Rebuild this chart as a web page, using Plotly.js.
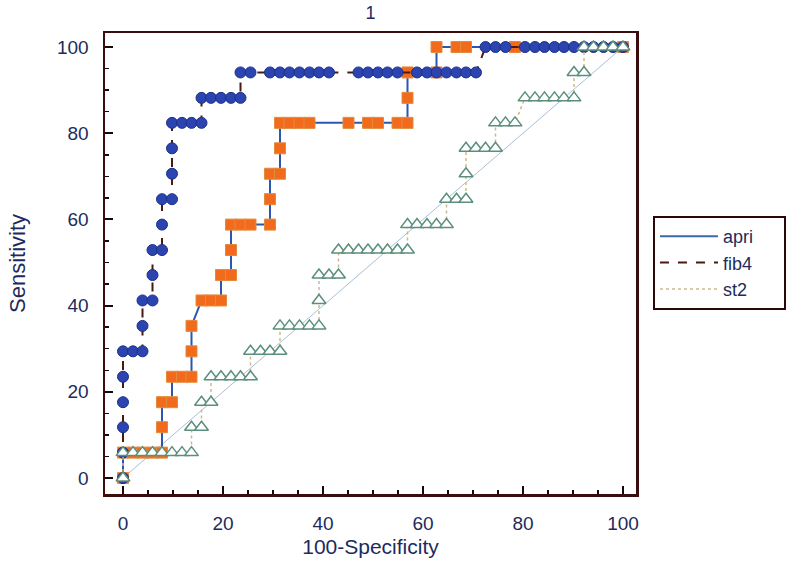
<!DOCTYPE html>
<html>
<head>
<meta charset="utf-8">
<script src="https://cdn.plot.ly/plotly-3.0.1.min.js"></script>
<style>
  html, body { margin: 0; padding: 0; background: #ffffff; }
  #chart { width: 800px; height: 566px; }
</style>
</head>
<body>
<div id="chart"></div>
<script>
// ROC points (x = 100-Specificity, y = Sensitivity)
const apriX = [0, 0, 2.0, 3.9, 5.9, 7.8, 7.8, 7.8, 9.8, 9.8, 11.8, 13.7, 13.7, 13.7, 15.7, 17.6, 19.6, 19.6, 21.6, 21.6, 21.6, 23.5, 25.5, 29.4, 29.4, 29.4, 31.4, 31.4, 31.4, 33.3, 35.3, 37.3, 45.1, 49.0, 51.0, 54.9, 56.9, 56.9, 56.9, 62.7, 62.7, 66.7, 68.6, 78.4, 100];
const apriY = [0, 5.9, 5.9, 5.9, 5.9, 5.9, 11.8, 17.6, 17.6, 23.5, 23.5, 23.5, 29.4, 35.3, 41.2, 41.2, 41.2, 47.1, 47.1, 52.9, 58.8, 58.8, 58.8, 58.8, 64.7, 70.6, 70.6, 76.5, 82.4, 82.4, 82.4, 82.4, 82.4, 82.4, 82.4, 82.4, 82.4, 88.2, 94.1, 94.1, 100, 100, 100, 100, 100];

const fib4X = [0, 0, 0, 0, 0, 0, 2.0, 3.9, 3.9, 3.9, 5.9, 5.9, 5.9, 7.8, 7.8, 7.8, 9.8, 9.8, 9.8, 9.8, 11.8, 13.7, 15.7, 15.7, 17.6, 19.6, 21.6, 23.5, 23.5, 25.5, 29.4, 31.4, 33.3, 35.3, 37.3, 39.2, 41.2, 47.1, 49.0, 51.0, 52.9, 54.9, 58.8, 60.8, 62.7, 64.7, 66.7, 68.6, 70.6, 72.5, 74.5, 76.5, 80.4, 82.4, 84.3, 86.3, 88.2, 90.2, 92.2, 94.1, 96.1, 98.0, 100];
const fib4Y = [0, 5.9, 11.8, 17.6, 23.5, 29.4, 29.4, 29.4, 35.3, 41.2, 41.2, 47.1, 52.9, 52.9, 58.8, 64.7, 64.7, 70.6, 76.5, 82.4, 82.4, 82.4, 82.4, 88.2, 88.2, 88.2, 88.2, 88.2, 94.1, 94.1, 94.1, 94.1, 94.1, 94.1, 94.1, 94.1, 94.1, 94.1, 94.1, 94.1, 94.1, 94.1, 94.1, 94.1, 94.1, 94.1, 94.1, 94.1, 94.1, 100, 100, 100, 100, 100, 100, 100, 100, 100, 100, 100, 100, 100, 100];

const st2X = [0, 0, 2.0, 3.9, 5.9, 7.8, 9.8, 11.8, 13.7, 13.7, 15.7, 15.7, 17.6, 17.6, 19.6, 21.6, 23.5, 25.5, 25.5, 27.5, 29.4, 31.4, 31.4, 33.3, 35.3, 37.3, 39.2, 39.2, 39.2, 41.2, 43.1, 43.1, 45.1, 47.1, 49.0, 51.0, 52.9, 54.9, 56.9, 56.9, 58.8, 60.8, 62.7, 64.7, 64.7, 66.7, 68.6, 68.6, 68.6, 70.6, 72.5, 74.5, 74.5, 76.5, 78.4, 80.4, 82.4, 84.3, 86.3, 88.2, 90.2, 90.2, 92.2, 92.2, 94.1, 96.1, 98.0, 100];
const st2Y = [0, 5.9, 5.9, 5.9, 5.9, 5.9, 5.9, 5.9, 5.9, 11.8, 11.8, 17.6, 17.6, 23.5, 23.5, 23.5, 23.5, 23.5, 29.4, 29.4, 29.4, 29.4, 35.3, 35.3, 35.3, 35.3, 35.3, 41.2, 47.1, 47.1, 47.1, 52.9, 52.9, 52.9, 52.9, 52.9, 52.9, 52.9, 52.9, 58.8, 58.8, 58.8, 58.8, 58.8, 64.7, 64.7, 64.7, 70.6, 76.5, 76.5, 76.5, 76.5, 82.4, 82.4, 82.4, 88.2, 88.2, 88.2, 88.2, 88.2, 88.2, 94.1, 94.1, 100, 100, 100, 100, 100];

const refX = [0, 100];
const refY = [0, 100];

const seriesNames = ["apri", "fib4", "st2"];
const chartTitle = "1";
const xTitle = "100-Specificity";
const yTitle = "Sensitivity";
const tickVals = [0, 20, 40, 60, 80, 100];

const FONT = "Liberation Sans, Arial, sans-serif";
const NAVY = "#1d2b5c";
const FRAME = "#3b0d0d";
const pad = "\u00a0".repeat(5);

const traces = [
  { x: refX, y: refY, mode: "lines", showlegend: false, hoverinfo: "skip",
    line: { color: "#a9bfd6", width: 1 } },
  { x: apriX, y: apriY, mode: "lines+markers", showlegend: false,
    line: { color: "#2d56b3", width: 2 },
    marker: { symbol: "square", size: 11, color: "#f26b1d", line: { color: "#e38a3c", width: 1 } } },
  { x: fib4X, y: fib4Y, mode: "lines+markers", showlegend: false,
    line: { color: "#4a1a10", width: 2, dash: "dash" },
    marker: { symbol: "circle", size: 11, color: "#2b44b0", line: { color: "#1c2f8a", width: 1 } } },
  { x: st2X, y: st2Y, mode: "lines+markers", showlegend: false,
    line: { color: "#cdb98e", width: 1.5, dash: "dot" },
    marker: { symbol: "triangle-up", size: 12, color: "#ffffff", line: { color: "#5b8f7c", width: 1.5 } } },
  // legend samples (lines only, as in the reference legend)
  { x: [null], y: [null], mode: "lines", name: seriesNames[0] + pad, line: { color: "#3a6aa8", width: 2 } },
  { x: [null], y: [null], mode: "lines", name: seriesNames[1] + pad, line: { color: "#4a1a10", width: 2, dash: "dash" } },
  { x: [null], y: [null], mode: "lines", name: seriesNames[2] + pad, line: { color: "#cdb98e", width: 1.5, dash: "dot" } }
];

const axisCommon = {
  showgrid: false, zeroline: false,
  showline: true, mirror: true, linecolor: FRAME, linewidth: 2.5,
  ticks: "inside", ticklen: 8, tickwidth: 2, tickcolor: "#1a0808",
  tickvals: tickVals,
  tickfont: { family: FONT, size: 19, color: NAVY },
  minor: { dtick: 5, ticks: "inside", ticklen: 4, tickwidth: 1.5, tickcolor: "#1a0808" }
};

const layout = {
  width: 800, height: 566,
  margin: { l: 105, r: 164, t: 33, b: 72 },
  paper_bgcolor: "#ffffff", plot_bgcolor: "#ffffff",
  font: { family: FONT, color: NAVY },
  title: { text: chartTitle, font: { family: FONT, size: 18, color: NAVY },
           x: 0.5, xref: "paper", y: 0.977, yanchor: "middle" },
  xaxis: Object.assign({}, axisCommon, {
    range: [-3.6, 102.6],
    ticklabelstandoff: 11,
    title: { text: xTitle, font: { family: FONT, size: 21, color: NAVY }, standoff: 6 }
  }),
  yaxis: Object.assign({}, axisCommon, {
    range: [-3.7, 103.25],
    ticklabelstandoff: 10,
    title: { text: yTitle, font: { family: FONT, size: 22, color: NAVY }, standoff: 26 }
  }),
  legend: {
    x: 1.032, xanchor: "left", y: 0.603, yanchor: "top",
    bgcolor: "#ffffff", bordercolor: "#2a0808", borderwidth: 2,
    font: { family: FONT, size: 18, color: NAVY },
    itemwidth: 58, tracegroupgap: 0
  },
  showlegend: true
};

Plotly.newPlot("chart", traces, layout, { displayModeBar: false, staticPlot: true });
</script>
</body>
</html>
